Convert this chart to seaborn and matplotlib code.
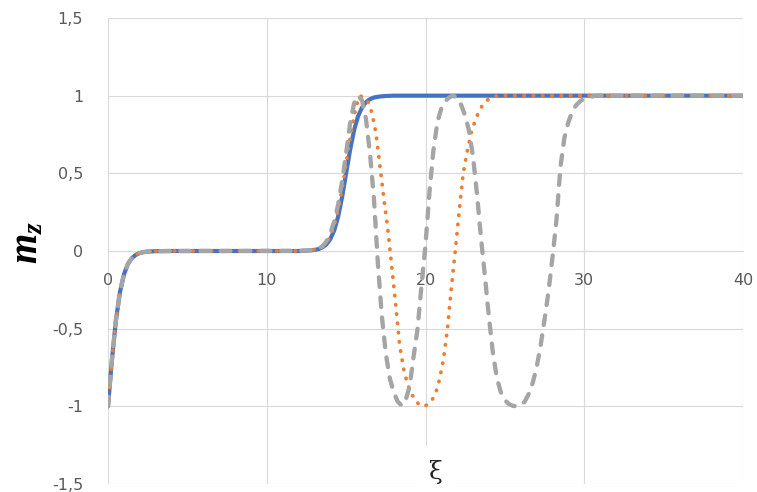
import matplotlib
matplotlib.use("Agg")
import matplotlib.pyplot as plt
import seaborn as sns

# ---- profile data: m_z versus xi ----
x_blue = [0, 0.1, 0.25, 0.5, 0.75, 1.0, 1.25, 1.5, 1.75, 2.0, 2.25, 2.5, 3.0, 4.0,
          12.0, 12.5, 12.75, 13.0, 13.25, 13.5, 13.75, 14.0, 14.25, 14.5, 14.75,
          15.0, 15.25, 15.5, 15.75, 16.0, 16.25, 16.5, 16.75, 17.0, 17.25, 17.5,
          18.0, 40.0]
m_blue = [-1.0, -0.876, -0.697, -0.445, -0.266, -0.152, -0.084, -0.046, -0.025,
          -0.013, -0.007, -0.004, -0.001, 0.0,
          0.0, 0.002, 0.004, 0.007, 0.012, 0.023, 0.042, 0.076, 0.133, 0.223, 0.349,
          0.5, 0.651, 0.777, 0.867, 0.924, 0.958, 0.977, 0.988, 0.993, 0.996, 0.998,
          1.0, 1.0]

x_orange = [0, 0.1, 0.25, 0.5, 0.75, 1.0, 1.25, 1.5, 1.75, 2.0, 2.25, 2.5, 3.0, 4.0,
            12.0, 12.625, 12.875, 13.125, 13.375, 13.625, 13.875, 14.125, 14.375,
            14.625, 14.875, 15.125, 15.375, 15.625, 15.875, 16.125, 16.375, 16.625,
            16.875, 17.125, 17.375, 17.625, 17.875, 18.125, 18.375, 18.625, 18.875,
            19.125, 19.375, 19.625, 19.875, 20.125, 20.375, 20.625, 20.875, 21.125,
            21.375, 21.625, 21.875, 22.125, 22.375, 22.625, 22.875, 23.125, 23.375,
            23.625, 23.875, 24.125, 24.375, 24.625, 40.0]
m_orange = [-1.0, -0.876, -0.697, -0.445, -0.266, -0.152, -0.084, -0.046, -0.025,
            -0.013, -0.007, -0.004, -0.001, 0.0,
            0.0, 0.003, 0.006, 0.011, 0.02, 0.038, 0.07, 0.125, 0.21,
            0.33, 0.48, 0.65, 0.8, 0.93, 1.0, 0.985, 0.96, 0.89,
            0.76, 0.55, 0.34, 0.14, -0.1, -0.35, -0.61, -0.76, -0.86,
            -0.92, -0.965, -0.99, -1.0, -0.99, -0.965, -0.92, -0.83, -0.7,
            -0.51, -0.24, 0.0, 0.26, 0.5, 0.64, 0.76, 0.84, 0.9,
            0.945, 0.97, 0.985, 0.995, 1.0, 1.0]

x_gray = [0, 0.1, 0.25, 0.5, 0.75, 1.0, 1.25, 1.5, 1.75, 2.0, 2.25, 2.5, 3.0, 4.0,
          12.0, 12.5,
          13.0, 13.25, 13.5, 13.75, 14.0, 14.25, 14.5, 14.75, 15.0, 15.25, 15.5, 15.75,
          16.0, 16.25, 16.5, 16.75, 17.0, 17.25, 17.5, 17.75, 18.0, 18.25, 18.5, 18.75,
          19.0, 19.25, 19.5, 19.75, 20.0, 20.25, 20.5, 20.75, 21.0, 21.25, 21.5, 21.75,
          22.0, 22.25, 22.5, 22.75, 23.0, 23.25, 23.5, 23.75, 24.0, 24.25, 24.5, 24.75,
          25.0, 25.25, 25.5, 25.75, 26.0, 26.25, 26.5, 26.75, 27.0, 27.25, 27.5, 27.75,
          28.0, 28.25, 28.5, 28.75, 29.0, 29.25, 29.5, 29.75, 30.0, 30.25, 30.5, 30.75,
          40.0]
m_gray = [-1.0, -0.876, -0.697, -0.445, -0.266, -0.152, -0.084, -0.046, -0.025,
          -0.013, -0.007, -0.004, -0.001, 0.0,
          0.001, 0.003,
          0.008, 0.015, 0.03, 0.06, 0.11, 0.19, 0.3, 0.45, 0.63, 0.82, 0.95, 1.0,
          0.97, 0.85, 0.63, 0.34, -0.08, -0.42, -0.66, -0.82, -0.91, -0.97, -0.995, -0.96,
          -0.87, -0.68, -0.5, -0.22, 0.04, 0.38, 0.65, 0.83, 0.92, 0.965, 0.99, 1.0,
          0.985, 0.94, 0.87, 0.77, 0.6, 0.36, 0.08, -0.17, -0.43, -0.66, -0.82, -0.91,
          -0.96, -0.985, -0.997, -1.0, -0.99, -0.97, -0.92, -0.85, -0.75, -0.61, -0.44, -0.26,
          -0.04, 0.2, 0.54, 0.73, 0.83, 0.9, 0.94, 0.965, 0.98, 0.988, 0.995, 1.0,
          1.0]

x_ticks = [0, 10, 20, 30, 40]
x_tick_labels = ["0", "10", "20", "30", "40"]
y_ticks = [-1.5, -1.0, -0.5, 0.0, 0.5, 1.0, 1.5]
y_tick_labels = ["-1,5", "-1", "-0,5", "0", "0,5", "1", "1,5"]

# ---- style ----
sns.set_theme(style="white")
plt.rcParams["font.family"] = ["DejaVu Sans"]
plt.rcParams["lines.scale_dashes"] = False
plt.rcParams["mathtext.fontset"] = "custom"
plt.rcParams["mathtext.it"] = "Liberation Serif:italic:bold"
plt.rcParams["mathtext.rm"] = "Liberation Serif:bold"

grid_color = "#D9D9D9"
text_color = "#595959"

fig = plt.figure(figsize=(7.57, 4.92), dpi=100)
ax = fig.add_axes([0.14267, 0.01626, 0.83884, 0.94715])

sns.lineplot(x=x_blue, y=m_blue, ax=ax, color="#4472C4", linewidth=3.0,
             solid_capstyle="round", estimator=None, sort=False, zorder=3)
sns.lineplot(x=x_orange, y=m_orange, ax=ax, color="#ED7D31", linewidth=2.7,
             linestyle=(0, (0.3, 6.4)), dash_capstyle="round",
             estimator=None, sort=False, zorder=4)
sns.lineplot(x=x_gray, y=m_gray, ax=ax, color="#A5A5A5", linewidth=3.1,
             linestyle=(0, (7.0, 7.5)), dash_capstyle="round",
             estimator=None, sort=False, zorder=5)

ax.set_xlim(0, 40)
ax.set_ylim(-1.5, 1.5)
ax.set_xticks(x_ticks, x_tick_labels)
ax.set_yticks(y_ticks, y_tick_labels)
ax.grid(True, color=grid_color, linewidth=0.8)
ax.set_axisbelow(True)

for side in ("left", "top", "right"):
    ax.spines[side].set_visible(False)
ax.spines["bottom"].set_position(("data", 0))
ax.spines["bottom"].set_color(grid_color)
ax.spines["bottom"].set_linewidth(0.8)

ax.tick_params(axis="both", length=0, labelsize=11.5, labelcolor=text_color)
ax.tick_params(axis="y", pad=18)
ax.tick_params(axis="x", pad=15.5)

ax.set_xlabel("")
ax.set_ylabel(r"$m_z$", fontsize=28, color="black")
ax.yaxis.set_label_coords(-0.128, 0.517)
ax.yaxis.label.set_va("center")

ax.text(0.5165, 0.026, "ξ", transform=ax.transAxes, family="DejaVu Serif",
        fontsize=18, ha="center", va="center", zorder=6, clip_on=False,
        bbox=dict(boxstyle="square,pad=0.55", facecolor="white", edgecolor="none"))

fig.savefig("out.png", dpi=100)
